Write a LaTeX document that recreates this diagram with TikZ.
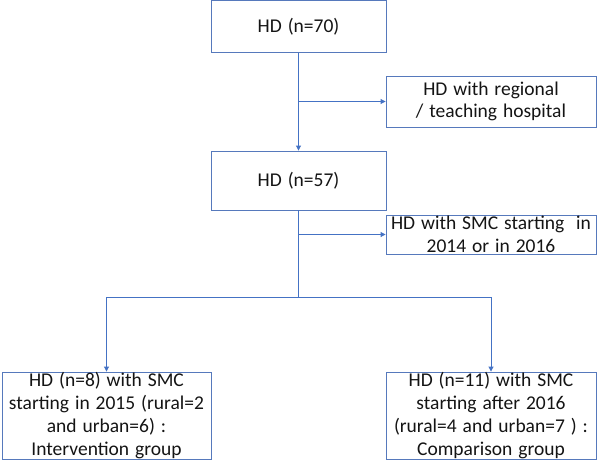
\documentclass[tikz,border=0pt]{standalone}
\usepackage{fontspec}
\setmainfont{Carlito}[WordSpace=1.35]
\usepackage{tikz}
\usetikzlibrary{positioning,arrows.meta,calc}
\definecolor{flowblue}{HTML}{4472C4}
\definecolor{boxedge}{HTML}{5679BC}

\tikzset{
    flowbox/.style={draw=boxedge, line width=0.9pt, align=center, inner sep=0pt,
        font=\fontsize{19.5}{22.7}\selectfont, text=black!92},
    flowline/.style={draw=flowblue, line width=0.9pt},
    flowarrow/.style={flowline, -{Triangle[length=5pt,width=5pt]}}
}

\begin{document}
\begin{tikzpicture}[x=1pt, y=-1pt]
\useasboundingbox (0,0) rectangle (597,464);

% Main column
\node[flowbox, minimum width=175pt, minimum height=52pt] (all) at (298.5, 26.5) {HD (n=70)};
\node[flowbox, minimum width=175pt, minimum height=59pt] (kept) at (298.5, 180.5) {HD (n=57)};

% Exclusions on the right
\node[flowbox, minimum width=210pt, minimum height=51pt] (hosp) at (491, 101.5) {HD with regional\\/ teaching hospital};
\node[flowbox, minimum width=210pt, minimum height=39pt] (other) at (491, 234.5) {HD with SMC starting~ in\\2014 or in 2016};

% Groups at the bottom
\node[flowbox, minimum width=209pt, minimum height=87pt] (interv) at (106.5, 415.5) {HD (n=8) with SMC\\starting in 2015 (rural=2\\and urban=6) :\\Intervention group};
\node[flowbox, minimum width=210pt, minimum height=87pt] (compar) at (491, 415.5) {HD (n=11) with SMC\\starting after 2016\\(rural=4 and urban=7 ) :\\Comparison group};

% Connectors
\draw[flowarrow] (all.south) -- (kept.north);
\draw[flowarrow] (all.south |- hosp.west) -- (hosp.west);
\coordinate (split) at ($(kept.south)+(0,87)$);
\draw[flowline] (kept.south) -- (split);
\draw[flowarrow] (kept.south |- other.west) -- (other.west);
\draw[flowarrow] (split) -| (interv.north);
\draw[flowarrow] (split) -| (compar.north);

\end{tikzpicture}
\end{document}
